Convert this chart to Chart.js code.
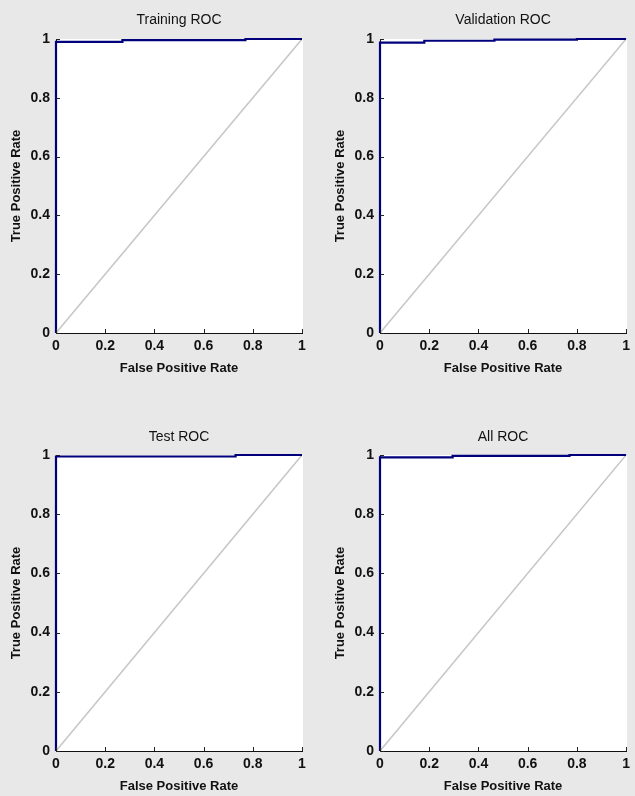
<!DOCTYPE html>
<html>
<head>
<meta charset="utf-8">
<script src="https://cdn.jsdelivr.net/npm/chart.js@4.4.1/dist/chart.umd.min.js"></script>
<style>
  html, body { margin: 0; padding: 0; background: #e8e8e8; overflow: hidden; }
  .pane { position: absolute; }
</style>
</head>
<body>
<div class="pane" style="left:0;top:0;width:318px;height:398px"><canvas id="trainChart"></canvas></div>
<div class="pane" style="left:318px;top:0;width:317px;height:398px"><canvas id="valChart"></canvas></div>
<div class="pane" style="left:0;top:398px;width:318px;height:398px"><canvas id="testChart"></canvas></div>
<div class="pane" style="left:318px;top:398px;width:317px;height:398px"><canvas id="allChart"></canvas></div>
<script>
// tick values shared by both axes
const rateTicks = [0, 0.2, 0.4, 0.6, 0.8, 1];

// chance line
const chanceFpr = [0, 1];
const chanceTpr = [0, 1];

// ROC curves (stepwise)
const trainFpr = [0, 0, 0.27, 0.27, 0.77, 0.77, 1];
const trainTpr = [0, 0.99, 0.99, 0.996, 0.996, 1, 1];

const valFpr = [0, 0, 0.18, 0.18, 0.465, 0.465, 0.8, 0.8, 1];
const valTpr = [0, 0.988, 0.988, 0.994, 0.994, 0.998, 0.998, 1, 1];

const testFpr = [0, 0, 0.73, 0.73, 1];
const testTpr = [0, 0.995, 0.995, 1, 1];

const allFpr = [0, 0, 0.295, 0.295, 0.77, 0.77, 1];
const allTpr = [0, 0.992, 0.992, 0.997, 0.997, 1, 1];

const FONT = "'Liberation Sans', Arial, sans-serif";

function toPoints(xs, ys) {
    return xs.map((x, i) => ({ x: x, y: ys[i] }));
}

// white plot area + small inward ticks + title over the plot
const rocPlugin = {
    id: 'rocDeco',
    beforeDraw(chart) {
        const a = chart.chartArea;
        const ctx = chart.ctx;
        ctx.save();
        ctx.fillStyle = '#ffffff';
        ctx.fillRect(a.left, a.top, a.right - a.left + 1, a.bottom - a.top);
        ctx.restore();
    },
    afterDraw(chart, args, opts) {
        const a = chart.chartArea;
        const ctx = chart.ctx;
        const xs = chart.scales.x;
        const ys = chart.scales.y;
        ctx.save();
        ctx.strokeStyle = '#222';
        ctx.lineWidth = 1;
        ctx.beginPath();
        rateTicks.forEach(v => {
            const px = Math.round(xs.getPixelForValue(v)) + 0.5;
            ctx.moveTo(px, a.bottom);
            ctx.lineTo(px, a.bottom - 4);
            const py = Math.round(ys.getPixelForValue(v)) + 0.5;
            ctx.moveTo(a.left, py);
            ctx.lineTo(a.left + 4, py);
        });
        ctx.stroke();
        ctx.fillStyle = '#111';
        ctx.font = '14px ' + FONT;
        ctx.textAlign = 'center';
        ctx.textBaseline = 'middle';
        ctx.fillText(opts.text, (a.left + a.right) / 2, opts.y);
        ctx.restore();
    }
};

function buildRoc(id, title, fpr, tpr, box) {
    const ctx = document.getElementById(id);
    new Chart(ctx, {
        type: 'line',
        data: {
            datasets: [
                {
                    data: toPoints(chanceFpr, chanceTpr),
                    borderColor: '#c6c6c6',
                    borderWidth: 1.5,
                    pointRadius: 0,
                    order: 2
                },
                {
                    data: toPoints(fpr, tpr),
                    borderColor: '#00007c',
                    borderWidth: 2.2,
                    pointRadius: 0,
                    clip: false,
                    order: 1
                }
            ]
        },
        plugins: [rocPlugin],
        options: {
            responsive: true,
            maintainAspectRatio: false,
            animation: false,
            events: [],
            layout: {
                padding: { top: box.t, left: 0, right: box.w - box.r, bottom: box.h - box.b - 44 }
            },
            plugins: {
                legend: { display: false },
                tooltip: { enabled: false },
                title: { display: false },
                rocDeco: { text: title, y: box.titleY }
            },
            scales: {
                x: {
                    type: 'linear',
                    min: 0,
                    max: 1,
                    afterBuildTicks: s => { s.ticks = rateTicks.map(v => ({ value: v })); },
                    afterFit: s => { s.height = 44; },
                    grid: { drawOnChartArea: false, drawTicks: false },
                    border: { color: '#111', width: 1 },
                    ticks: {
                        color: '#111', padding: 5, maxRotation: 0,
                        callback: v => String(v),
                        font: { family: FONT, size: 14, weight: 'bold' }
                    },
                    title: {
                        display: true,
                        text: 'False Positive Rate',
                        color: '#111',
                        padding: { top: 0, bottom: 1 },
                        font: { family: FONT, size: 13, weight: 'bold' }
                    }
                },
                y: {
                    type: 'linear',
                    min: 0,
                    max: 1,
                    afterBuildTicks: s => { s.ticks = rateTicks.map(v => ({ value: v })); },
                    afterFit: s => { s.width = box.l; },
                    grid: { drawOnChartArea: false, drawTicks: false },
                    border: { color: '#111', width: 1 },
                    ticks: {
                        color: '#111', padding: 6,
                        callback: v => String(v),
                        font: { family: FONT, size: 14, weight: 'bold' }
                    },
                    title: {
                        display: true,
                        text: 'True Positive Rate',
                        color: '#111',
                        padding: { top: box.yTitleX - 7.8, bottom: 0 },
                        font: { family: FONT, size: 13, weight: 'bold' }
                    }
                }
            }
        }
    });
}

buildRoc('trainChart', 'Training ROC', trainFpr, trainTpr,
    { w: 318, h: 398, l: 56, t: 39, r: 302, b: 333, titleY: 20, yTitleX: 16 });
buildRoc('valChart', 'Validation ROC', valFpr, valTpr,
    { w: 317, h: 398, l: 62, t: 39, r: 309, b: 333, titleY: 20, yTitleX: 22 });
buildRoc('testChart', 'Test ROC', testFpr, testTpr,
    { w: 318, h: 398, l: 56, t: 57, r: 302, b: 353, titleY: 39, yTitleX: 16 });
buildRoc('allChart', 'All ROC', allFpr, allTpr,
    { w: 317, h: 398, l: 62, t: 57, r: 309, b: 353, titleY: 39, yTitleX: 22 });
</script>
</body>
</html>
